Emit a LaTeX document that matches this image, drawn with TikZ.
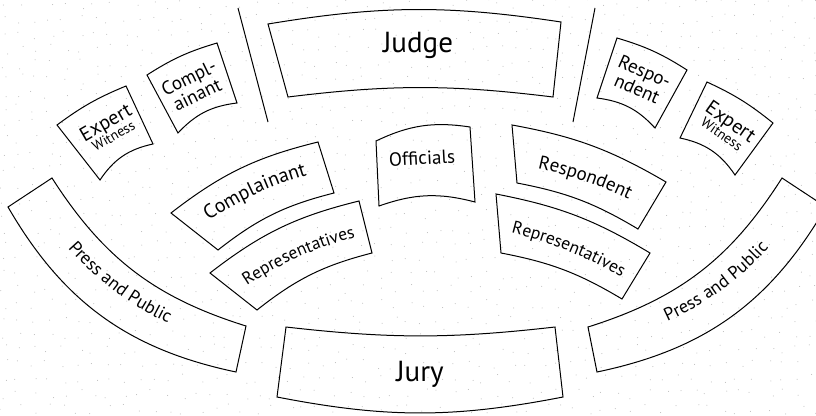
\documentclass[tikz,border=0pt]{standalone}
\usepackage{fontspec}
\setmainfont{PT Sans}
\usetikzlibrary{decorations.text}
\newcommand{\courtseat}[7]{%
  \coordinate (#1-a) at (#2);
  \coordinate (#1-b) at (#3);
  \coordinate (#1-c) at (#4);
  \coordinate (#1-d) at (#5);
  \draw[seatline] (#1-a) to[bend left=#6] (#1-b) -- (#1-c) to[bend left=#7] (#1-d) -- cycle;}
% curved label: baseline centre, angle, half chord, bend, font size, text
\newcommand{\arclabel}[6]{%
  \pgfmathsetmacro\arcsag{0.5872*#3*sin(#4)}%
  \begin{scope}[shift={(#1)}, rotate=#2]
    \path[decorate, decoration={text along path, text align=center,
      text={|\fontsize{#5}{#5}\selectfont|#6}}]
      (-#3,\arcsag) to[bend left=#4] (#3,\arcsag);
  \end{scope}}
\tikzset{
  seatline/.style={draw=black, line width=1pt, line join=miter},
  sepline/.style={draw=black, line width=1pt},
  fhuge/.style={font=\fontsize{29}{31}\selectfont},
  fsmall/.style={font=\fontsize{19}{20}\selectfont},
  dotc/.style={fill=black!28},
  lab/.style={inner sep=0pt, align=center}
}
\begin{document}
\begin{tikzpicture}[x=1pt,y=-1pt]
\useasboundingbox (0,0) rectangle (816,415);
\fill[white] (0,0) rectangle (816,415);
% faint dotted paper
\pgfmathsetseed{7}
\foreach \i in {0,...,54}{
  \foreach \j in {0,...,27}{
    \pgfmathsetmacro\dx{\i*15+rand*5+4}
    \pgfmathsetmacro\dy{\j*15+rand*5+4}
    \fill[dotc] (\dx,\dy) circle (0.5pt);
  }
}
% separators
\coordinate (sepL1) at (238,8);  \coordinate (sepL2) at (268,122);
\coordinate (sepR1) at (595,8);  \coordinate (sepR2) at (573,122);
\draw[sepline] (sepL1) -- (sepL2);
\draw[sepline] (sepR1) -- (sepR2);
% seats
\courtseat{judge}{268,24}{561,22}{553,97}{288,97}{9}{-7}
\courtseat{jury}{286,327}{555,327}{563,397}{277,397}{-6.5}{11}
\courtseat{pressL}{52,178}{246,326}{236,372}{8,207}{-20}{24}
\courtseat{pressR}{588,327}{782,178}{826,207}{597,372}{-20}{24}
\courtseat{expL}{57,125}{126,86}{153,144}{100,180}{7}{-22}
\courtseat{compL}{147,75}{217,43}{237,103}{178,133}{8}{-20}
\courtseat{respR}{617,38}{687,70}{655,128}{597,98}{8}{-20}
\courtseat{expR}{707,82}{773,123}{735,175}{680,138}{7}{-22}
\courtseat{off}{376,141}{470,127}{475,202}{379,206}{17}{-17}
\courtseat{compC}{171,213}{318,142}{334,193}{218,250}{12}{-12}
\courtseat{repL}{210,273}{359,201}{372,253}{257,310}{12}{-12}
\courtseat{respC}{512,125}{666,182}{638,229}{517,183}{10}{-10}
\courtseat{repR}{496,194}{650,253}{622,299}{501,253}{10}{-10}
% straight labels
\node[lab,fhuge] (tJudge) at (418,45) {Judge};
\node[lab,fhuge] (tJury) at (420,374) {Jury};
\node[lab,fsmall,rotate=3] (tOff) at (422,158) {Officials};
\node[lab,rotate=30] (tExpL) at (109,128) {{\fontsize{20}{20}\selectfont Expert}\\[-1pt]{\fontsize{14}{14}\selectfont Witness}};
\node[lab,fsmall,rotate=26] (tCompL) at (193,86) {Compl-\\[-1pt]ainant};
\node[lab,fsmall,rotate=-24] (tRespR) at (641,80) {Respo-\\[-1pt]ndent};
\node[lab,rotate=-35] (tExpR) at (727,127) {{\fontsize{20}{20}\selectfont Expert}\\[-1pt]{\fontsize{14}{14}\selectfont Witness}};
% curved labels
\arclabel{256,194}{25}{90}{12}{20}{Complainant}
\arclabel{299,257}{24}{90}{12}{17.5}{Representatives}
\arclabel{584,181}{-19}{90}{10}{19}{Respondent}
\arclabel{568,251}{-22}{90}{10}{17.5}{Representatives}
\arclabel{114,291}{-37}{130}{-20}{18}{Press and Public}
\arclabel{722,290}{36}{130}{-20}{18}{Press and Public}
\end{tikzpicture}
\end{document}
